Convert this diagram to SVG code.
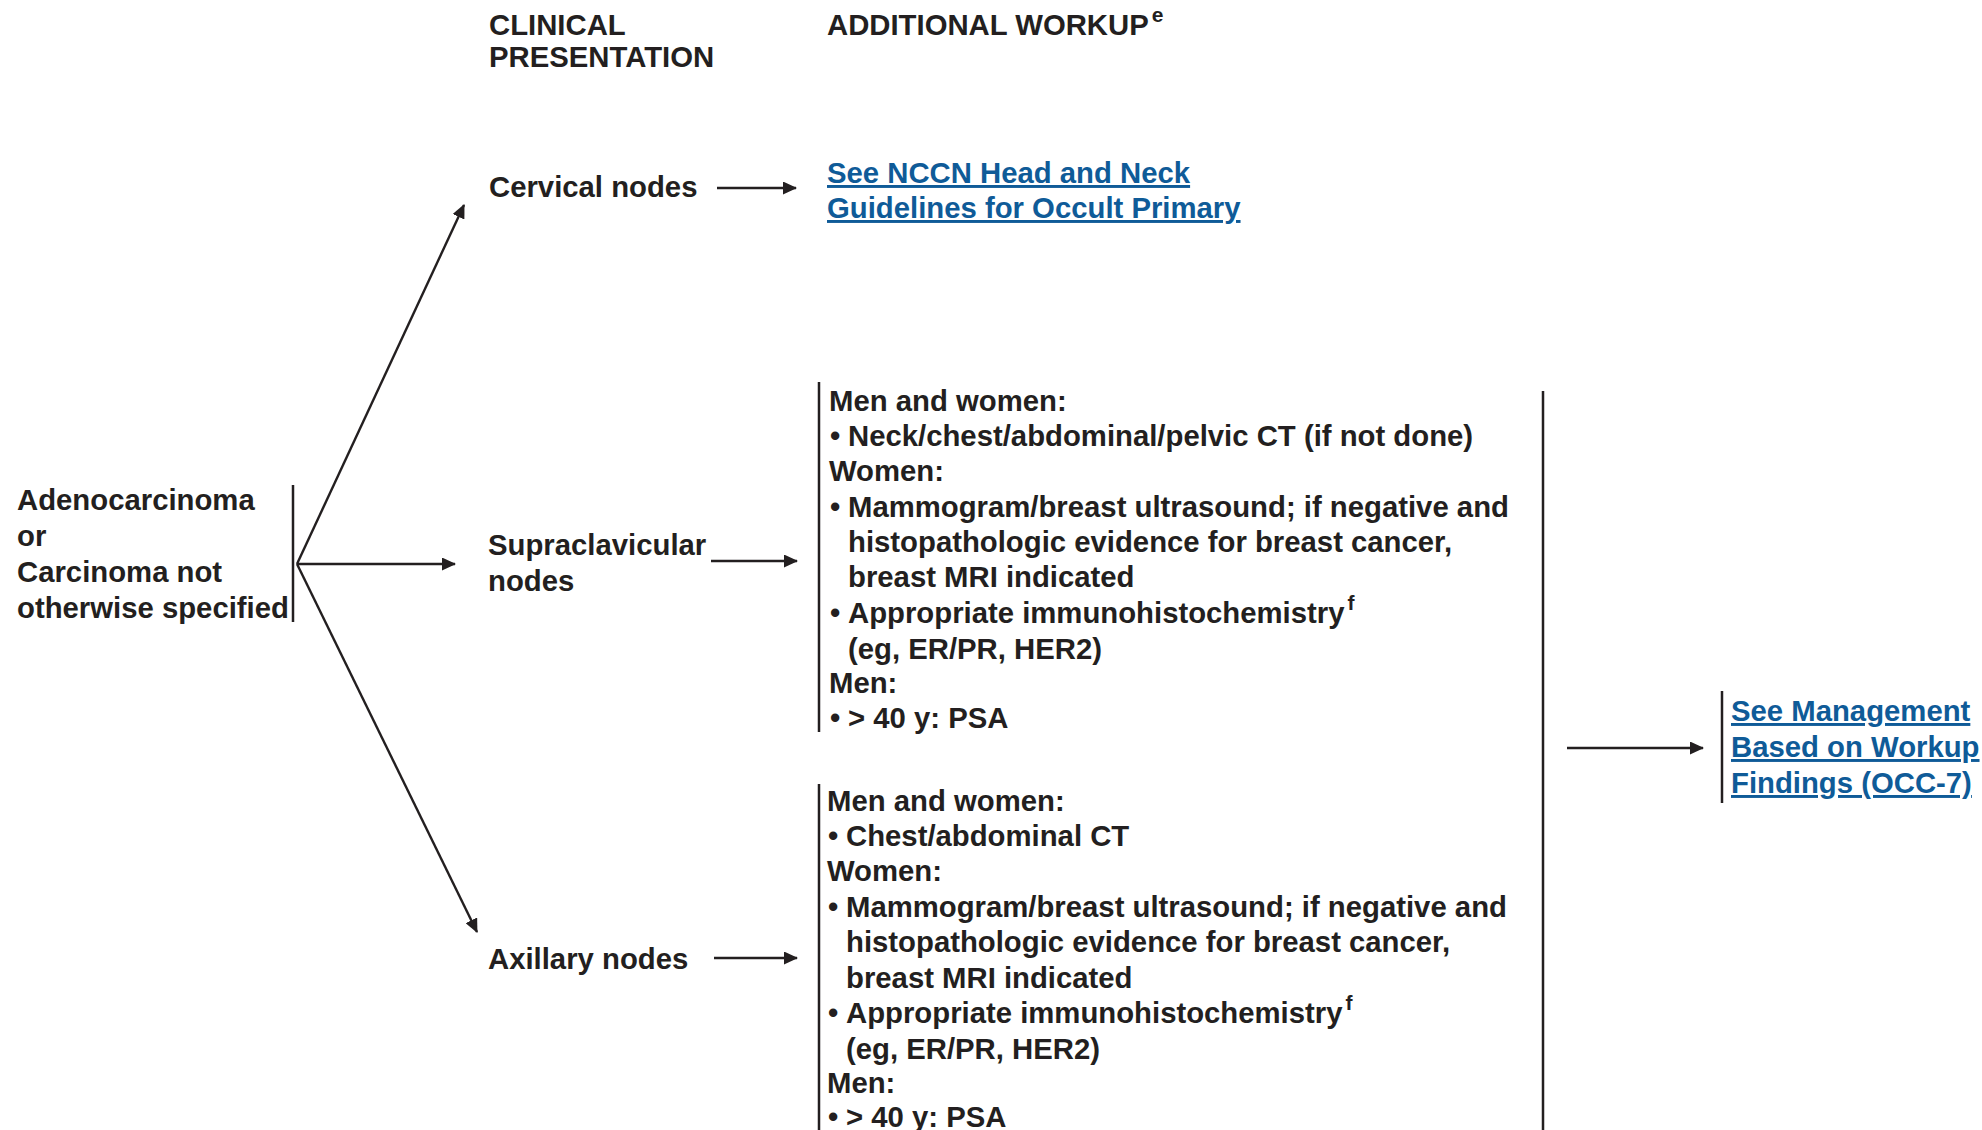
<svg xmlns="http://www.w3.org/2000/svg" width="1982" height="1130" viewBox="0 0 1982 1130">
  <defs>
    <marker id="arrow" viewBox="0 0 14 13" refX="13" refY="6.5" markerWidth="14" markerHeight="13" markerUnits="userSpaceOnUse" orient="auto">
      <path d="M0,0 L14,6.5 L0,13 Z" fill="#231f20"/>
    </marker>
    <style>
      text { font-family: "Liberation Sans", Arial, Helvetica, sans-serif; font-weight: bold; font-size: 29.3px; fill: #231f20; }
      .link { fill: #0f5b98; text-decoration: underline; }
      .sup { font-size: 21px; }
      .bar { stroke: #231f20; stroke-width: 2.5; fill: none; }
      .conn { stroke: #231f20; stroke-width: 2.4; fill: none; marker-end: url(#arrow); }
    </style>
  </defs>
  <rect width="1982" height="1130" fill="#ffffff"/>

  <!-- column headings -->
  <g id="heading-presentation">
    <text x="489" y="35">CLINICAL</text>
    <text x="489" y="67">PRESENTATION</text>
  </g>
  <g id="heading-workup">
    <text x="827" y="35">ADDITIONAL WORKUP<tspan class="sup" dx="3" dy="-13">e</tspan></text>
  </g>

  <!-- starting histology -->
  <g id="node-histology">
    <text x="17" y="510">Adenocarcinoma</text>
    <text x="17" y="546">or</text>
    <text x="17" y="582">Carcinoma not</text>
    <text x="17" y="618">otherwise specified</text>
    <line class="bar" x1="293" y1="485" x2="293" y2="622"/>
  </g>

  <!-- clinical presentations -->
  <g id="node-cervical">
    <text x="489" y="197">Cervical nodes</text>
  </g>
  <g id="node-supraclavicular">
    <text x="488" y="555">Supraclavicular</text>
    <text x="488" y="591">nodes</text>
  </g>
  <g id="node-axillary">
    <text x="488" y="969">Axillary nodes</text>
  </g>

  <!-- cervical: referral link -->
  <g id="node-head-neck-link">
    <text class="link" x="827" y="183">See NCCN Head and Neck</text>
    <text class="link" x="827" y="218">Guidelines for Occult Primary</text>
  </g>

  <!-- supraclavicular workup -->
  <g id="node-supraclavicular-workup">
    <line class="bar" x1="819" y1="382" x2="819" y2="732"/>
    <text x="829" y="411">Men and women:</text>
    <text x="830" y="446">•</text><text x="848" y="446">Neck/chest/abdominal/pelvic CT (if not done)</text>
    <text x="829" y="481">Women:</text>
    <text x="830" y="517">•</text><text x="848" y="517">Mammogram/breast ultrasound; if negative and</text>
    <text x="848" y="552">histopathologic evidence for breast cancer,</text>
    <text x="848" y="587">breast MRI indicated</text>
    <text x="830" y="623">•</text><text x="848" y="623">Appropriate immunohistochemistry<tspan class="sup" dx="3" dy="-13">f</tspan></text>
    <text x="848" y="659">(eg, ER/PR, HER2)</text>
    <text x="829" y="693">Men:</text>
    <text x="830" y="728">•</text><text x="848" y="728">&gt; 40 y: PSA</text>
  </g>

  <!-- axillary workup -->
  <g id="node-axillary-workup">
    <line class="bar" x1="819" y1="784" x2="819" y2="1130"/>
    <text x="827" y="811">Men and women:</text>
    <text x="828" y="846">•</text><text x="846" y="846">Chest/abdominal CT</text>
    <text x="827" y="881">Women:</text>
    <text x="828" y="917">•</text><text x="846" y="917">Mammogram/breast ultrasound; if negative and</text>
    <text x="846" y="952">histopathologic evidence for breast cancer,</text>
    <text x="846" y="988">breast MRI indicated</text>
    <text x="828" y="1023">•</text><text x="846" y="1023">Appropriate immunohistochemistry<tspan class="sup" dx="3" dy="-13">f</tspan></text>
    <text x="846" y="1059">(eg, ER/PR, HER2)</text>
    <text x="827" y="1093">Men:</text>
    <text x="828" y="1127">•</text><text x="846" y="1127">&gt; 40 y: PSA</text>
  </g>

  <!-- bracket closing both workup columns -->
  <g id="node-workup-bracket">
    <line class="bar" x1="1543" y1="391" x2="1543" y2="1130"/>
  </g>

  <!-- management link -->
  <g id="node-management-link">
    <line class="bar" x1="1722" y1="691" x2="1722" y2="803"/>
    <text class="link" x="1731" y="721">See Management</text>
    <text class="link" x="1731" y="757">Based on Workup</text>
    <text class="link" x="1731" y="793">Findings (OCC-7)</text>
  </g>

  <!-- connectors -->
  <g id="connectors">
    <line class="conn" x1="297" y1="564" x2="464" y2="205"/>
    <line class="conn" x1="297" y1="564" x2="455" y2="564"/>
    <line class="conn" x1="297" y1="564" x2="477" y2="932"/>
    <line class="conn" x1="717" y1="188" x2="796" y2="188"/>
    <line class="conn" x1="711" y1="561" x2="797" y2="561"/>
    <line class="conn" x1="714" y1="958" x2="797" y2="958"/>
    <line class="conn" x1="1567" y1="748" x2="1703" y2="748"/>
  </g>
</svg>
